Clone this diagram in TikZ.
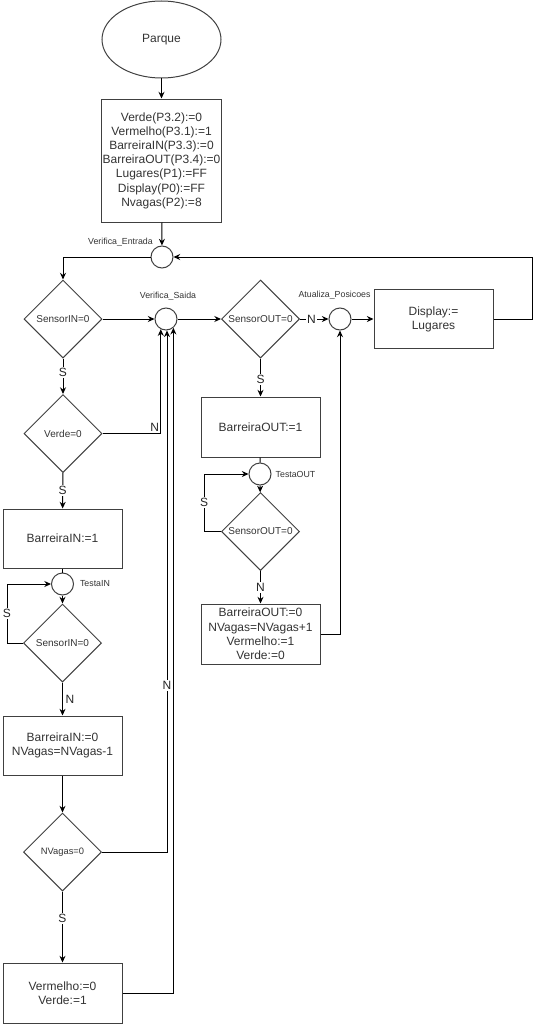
\documentclass[tikz,border=0pt]{standalone}
\usepackage{fontspec}
\setmainfont{Liberation Sans}
\usetikzlibrary{shapes.geometric, arrows.meta, positioning, calc}

\begin{document}
\begin{tikzpicture}[x=0.75pt, y=-0.75pt, line width=0.75pt,
  font=\fontsize{9}{10.65}\selectfont,
  inicio/.style={ellipse,draw=black!75,minimum width=89.25pt,minimum height=57.75pt,
                 inner sep=0pt,text=black!80},
  caixa/.style={rectangle,draw=black!75,minimum width=89.25pt,minimum height=44.25pt,
                inner sep=1pt,align=center,text=black!80},
  decisao/.style={diamond,aspect=1,draw=black!75,minimum width=58.5pt,minimum height=58.5pt,
                  inner sep=0pt,text=black!80,font=\fontsize{7.5}{9}\selectfont},
  juncao/.style={circle,draw=black!75,minimum size=16.5pt,inner sep=0pt},
  rotulo/.style={inner sep=0pt,text=black!80,font=\fontsize{6.6}{8}\selectfont},
  ramo/.style={fill=white,inner sep=1pt,text=black!85},
  seta/.style={-{Stealth[length=5pt,width=4.5pt]}}]

  \useasboundingbox (0,0) rectangle (540,1024);

  % --- inicio ---
  \node[inicio] (park) at (161.5,39.5) {Parque};
  \node[caixa,minimum height=92.25pt] (init) at (161.5,160.5)
        {Verde(P3.2):=0\\ Vermelho(P3.1):=1\\ BarreiraIN(P3.3):=0\\ BarreiraOUT(P3.4):=0\\
         Lugares(P1):=FF\\ Display(P0):=FF\\ Nvagas(P2):=8};
  \draw[seta] (park) -- (init);

  % --- pontos de juncao ---
  \node[juncao] (vent) at (162,257) {};
  \node[juncao] (vsai) at (166,319) {};
  \node[juncao] (vat)  at (340,319) {};
  \node[rotulo] (lvent) at (120.5,242) {Verifica\_Entrada};
  \node[rotulo] (lvsai) at (168,296)   {Verifica\_Saida};
  \node[rotulo] (lvat)  at (334.5,295) {Atualiza\_Posicoes};
  \draw[seta] (init) -- (vent);

  % --- linha principal ---
  \node[decisao] (sin)  at (63,319)    {SensorIN=0};
  \node[decisao] (sout) at (260.5,319) {SensorOUT=0};
  \node[caixa] (disp)   at (433.5,319) {Display:=\\ Lugares};
  \draw[seta] (vent.west) -| (sin.north);
  \draw[seta] (sin) -- (vsai);
  \draw[seta] (vsai) -- (sout);
  \draw[seta] (sout) -- node[ramo,pos=0.4]{N} (vat);
  \draw[seta] (vat) -- (disp);
  \draw[seta] (disp.east) -- ++(39,0) |- (vent.east);

  % --- entrada de carro ---
  \node[decisao] (verde) at (63,433.5)  {Verde=0};
  \node[caixa] (bin1)    at (62.5,538.5) {BarreiraIN:=1};
  \node[juncao] (tin)    at (62.5,584)  {};
  \node[rotulo] (ltin)   at (95,584)    {TestaIN};
  \node[decisao] (sin2)  at (62.5,643)  {SensorIN=0};
  \node[caixa] (bin0)    at (62.5,745.5) {BarreiraIN:=0\\ NVagas=NVagas-1};
  \node[decisao,font=\fontsize{7}{8}\selectfont] (nvag) at (62.5,852) {NVagas=0};
  \node[caixa,minimum height=45pt] (verm) at (62.5,993) {Vermelho:=0\\ Verde:=1};

  \draw[seta] (sin) -- node[ramo,pos=0.4]{S} (verde);
  \draw[seta] (verde.east) -| node[anchor=south east,inner sep=1pt,text=black!85]{N} (vsai.-117);
  \draw[seta] (verde) -- node[ramo]{S} (bin1);
  \draw (bin1) -- (tin);
  \draw[seta] (tin) -- (sin2);
  \draw[seta] (sin2.west) -- ++(-16,0) |- node[ramo,pos=0.25]{S} (tin.west);
  \draw[seta] (sin2) -- node[right,inner sep=2pt,text=black!85]{N} (bin0);
  \draw[seta] (bin0) -- (nvag);
  \draw[seta] (nvag.east) -| node[ramo,pos=0.66]{N} (vsai.-85);
  \draw[seta] (nvag) -- node[ramo,pos=0.375]{S} (verm);
  \draw[seta] (verm.east) -| (vsai.-50);

  % --- saida de carro ---
  \node[caixa,minimum height=45pt] (bout1) at (260.5,427) {BarreiraOUT:=1};
  \node[juncao] (tout)  at (260,474)    {};
  \node[rotulo] (ltout) at (295.5,474)  {TestaOUT};
  \node[decisao] (sout2) at (260.5,531.5) {SensorOUT=0};
  \node[caixa,minimum height=45pt] (bout0) at (260.5,634)
        {BarreiraOUT:=0\\ NVagas=NVagas+1\\ Vermelho:=1\\ Verde:=0};

  \draw[seta] (sout) -- node[ramo,pos=0.56]{S} (bout1);
  \draw (bout1) -- (tout);
  \draw[seta] (tout) -- (sout2);
  \draw[seta] (sout2.west) -- ++(-17,0) |- node[ramo,pos=0.25]{S} (tout.west);
  \draw[seta] (sout2) -- node[ramo]{N} (bout0);
  \draw[seta] (bout0.east) -| (vat.south);
\end{tikzpicture}
\end{document}
